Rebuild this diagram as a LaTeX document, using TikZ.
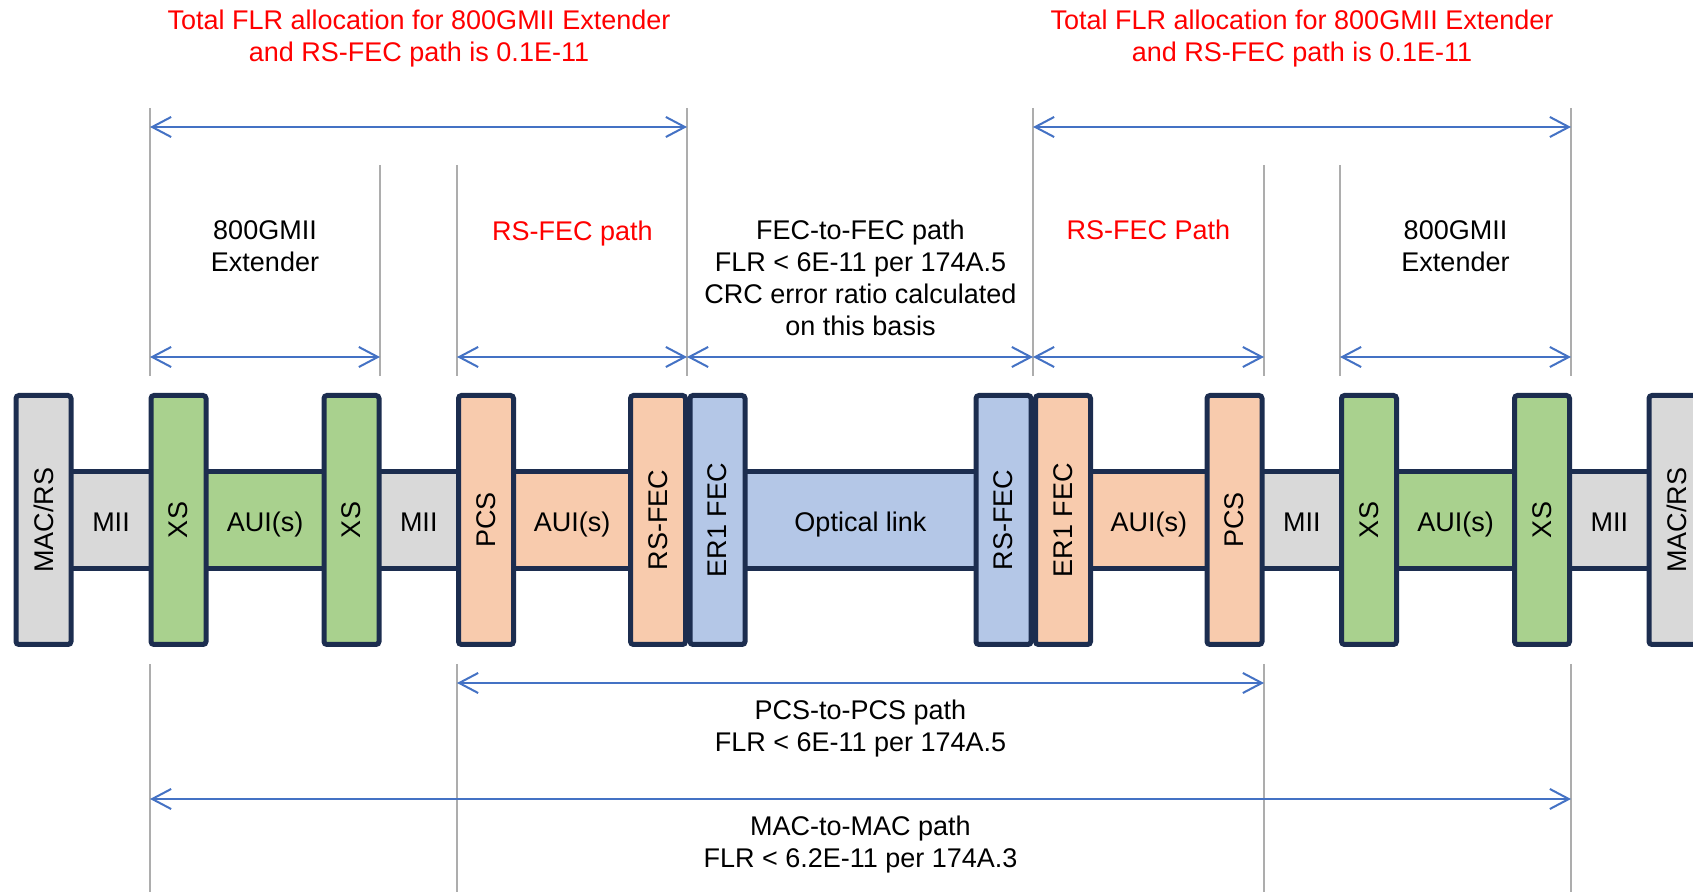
\documentclass[tikz,border=0pt]{standalone}
\usepackage{fontspec}
\setmainfont{Liberation Sans}
\usetikzlibrary{arrows.meta,calc,backgrounds}

\definecolor{navy}{HTML}{1C2D4F}
\definecolor{grayfill}{HTML}{D9D9D9}
\definecolor{greenfill}{HTML}{A9D18E}
\definecolor{peachfill}{HTML}{F8CBAD}
\definecolor{bluefill}{HTML}{B4C7E7}
\definecolor{dimblue}{HTML}{4472C4}
\definecolor{guidegray}{HTML}{ADADAD}

\begin{document}
\begin{tikzpicture}[
x=0.5pt, y=-0.5pt,
every node/.style={
font=\fontsize{13.5}{16}\selectfont,
align=center,
inner sep=0pt
},
blk/.style={
draw=navy,
line width=2.5pt,
rounded corners=1.5pt,
rotate=90,
minimum width=124.5pt,
minimum height=27.5pt
},
bar/.style={draw=navy, line width=2.5pt},
ifname/.style={text height=9.7pt, text depth=0pt, yshift=-1pt},
guide/.style={draw=guidegray, line width=1pt},
dim/.style={
draw=dimblue,
line width=1pt,
{Straight Barb[length=9.5pt,width=10pt]}-{Straight Barb[length=9.5pt,width=10pt]}
},
note/.style={text=red}
]

\useasboundingbox (0,0) rectangle (1693,892);

% layers
\node[blk, fill=grayfill] (macl) at (43.5,520) {MAC/RS};
\node[blk, fill=greenfill] (xs1) at (178.5,520) {XS};
\node[blk, fill=greenfill] (xs2) at (351.5,520) {XS};
\node[blk, fill=peachfill] (pcs1) at (486,520) {PCS};
\node[blk, fill=peachfill] (rsfec1) at (658,520) {RS-FEC};
\node[blk, fill=bluefill] (er1) at (717.5,520) {ER1 FEC};
\node[blk, fill=bluefill] (rsfec2) at (1003.5,520) {RS-FEC};
\node[blk, fill=peachfill] (er2) at (1063,520) {ER1 FEC};
\node[blk, fill=peachfill] (pcs2) at (1234.5,520) {PCS};
\node[blk, fill=greenfill] (xs3) at (1369,520) {XS};
\node[blk, fill=greenfill] (xs4) at (1542,520) {XS};
\node[blk, fill=grayfill] (macr) at (1676.5,520) {MAC/RS};

% interfaces
\begin{scope}[on background layer]
\foreach \a/\b/\c in {macl/xs1/grayfill, xs1/xs2/greenfill, xs2/pcs1/grayfill,
  pcs1/rsfec1/peachfill, er1/rsfec2/bluefill, er2/pcs2/peachfill,
  pcs2/xs3/grayfill, xs3/xs4/greenfill, xs4/macr/grayfill}
  \draw[bar, fill=\c] ([yshift=24.25pt]\a.center) rectangle ([yshift=-24.25pt]\b.center);
\end{scope}

\node[ifname] (mii1) at ($(macl)!0.5!(xs1)$) {MII};
\node[ifname] (aui1) at ($(xs1)!0.5!(xs2)$) {AUI(s)};
\node[ifname] (mii2) at ($(xs2)!0.5!(pcs1)$) {MII};
\node[ifname] (aui2) at ($(pcs1)!0.5!(rsfec1)$) {AUI(s)};
\node[ifname] (optlink) at ($(er1)!0.5!(rsfec2)$) {Optical link};
\node[ifname] (aui3) at ($(er2)!0.5!(pcs2)$) {AUI(s)};
\node[ifname] (mii3) at ($(pcs2)!0.5!(xs3)$) {MII};
\node[ifname] (aui4) at ($(xs3)!0.5!(xs4)$) {AUI(s)};
\node[ifname] (mii4) at ($(xs4)!0.5!(macr)$) {MII};

% guide lines
\coordinate (g1) at (150,0);
\coordinate (g2) at (380,0);
\coordinate (g3) at (457,0);
\coordinate (g4) at (687,0);
\coordinate (g5) at (1033,0);
\coordinate (g6) at (1264,0);
\coordinate (g7) at (1340,0);
\coordinate (g8) at (1571,0);

\foreach \g in {g1,g4,g5,g8}
  \draw[guide] (\g |- 0,108) -- (\g |- 0,376);
\foreach \g in {g2,g3,g6,g7}
  \draw[guide] (\g |- 0,165) -- (\g |- 0,376);
\foreach \g in {g1,g3,g6,g8}
  \draw[guide] (\g |- 0,664) -- (\g |- 0,892);

% paths
\draw[dim] (g1 |- 0,127) -- (g4 |- 0,127);
\draw[dim] (g5 |- 0,127) -- (g8 |- 0,127);
\draw[dim] (g1 |- 0,357) -- (g2 |- 0,357);
\draw[dim] (g3 |- 0,357) -- (g4 |- 0,357);
\draw[dim] (g4 |- 0,357) -- (g5 |- 0,357);
\draw[dim] (g5 |- 0,357) -- (g6 |- 0,357);
\draw[dim] (g7 |- 0,357) -- (g8 |- 0,357);
\draw[dim] (g3 |- 0,683) -- (g6 |- 0,683);
\draw[dim] (g1 |- 0,799) -- (g8 |- 0,799);

% labels
\node[note] (totl) at (419,38.5) {Total FLR allocation for 800GMII Extender\\and RS-FEC path is 0.1E-11};
\node[note] (totr) at (1302,38.5) {Total FLR allocation for 800GMII Extender\\and RS-FEC path is 0.1E-11};
\node (extl) at (265,246) {800GMII\\Extender};
\node[note] (rspl) at (572.5,233.5) {RS-FEC path};
\node (fecfec) at (860.5,278) {FEC-to-FEC path\\FLR < 6E-11 per 174A.5\\CRC error ratio calculated\\on this basis};
\node[note] (rspr) at (1148.5,230) {RS-FEC Path};
\node (extr) at (1455.5,246) {800GMII\\Extender};
\node (pcspcs) at (860.5,728.5) {PCS-to-PCS path\\FLR < 6E-11 per 174A.5};
\node (macmac) at (860.5,845) {MAC-to-MAC path\\FLR < 6.2E-11 per 174A.3};

\end{tikzpicture}
\end{document}
